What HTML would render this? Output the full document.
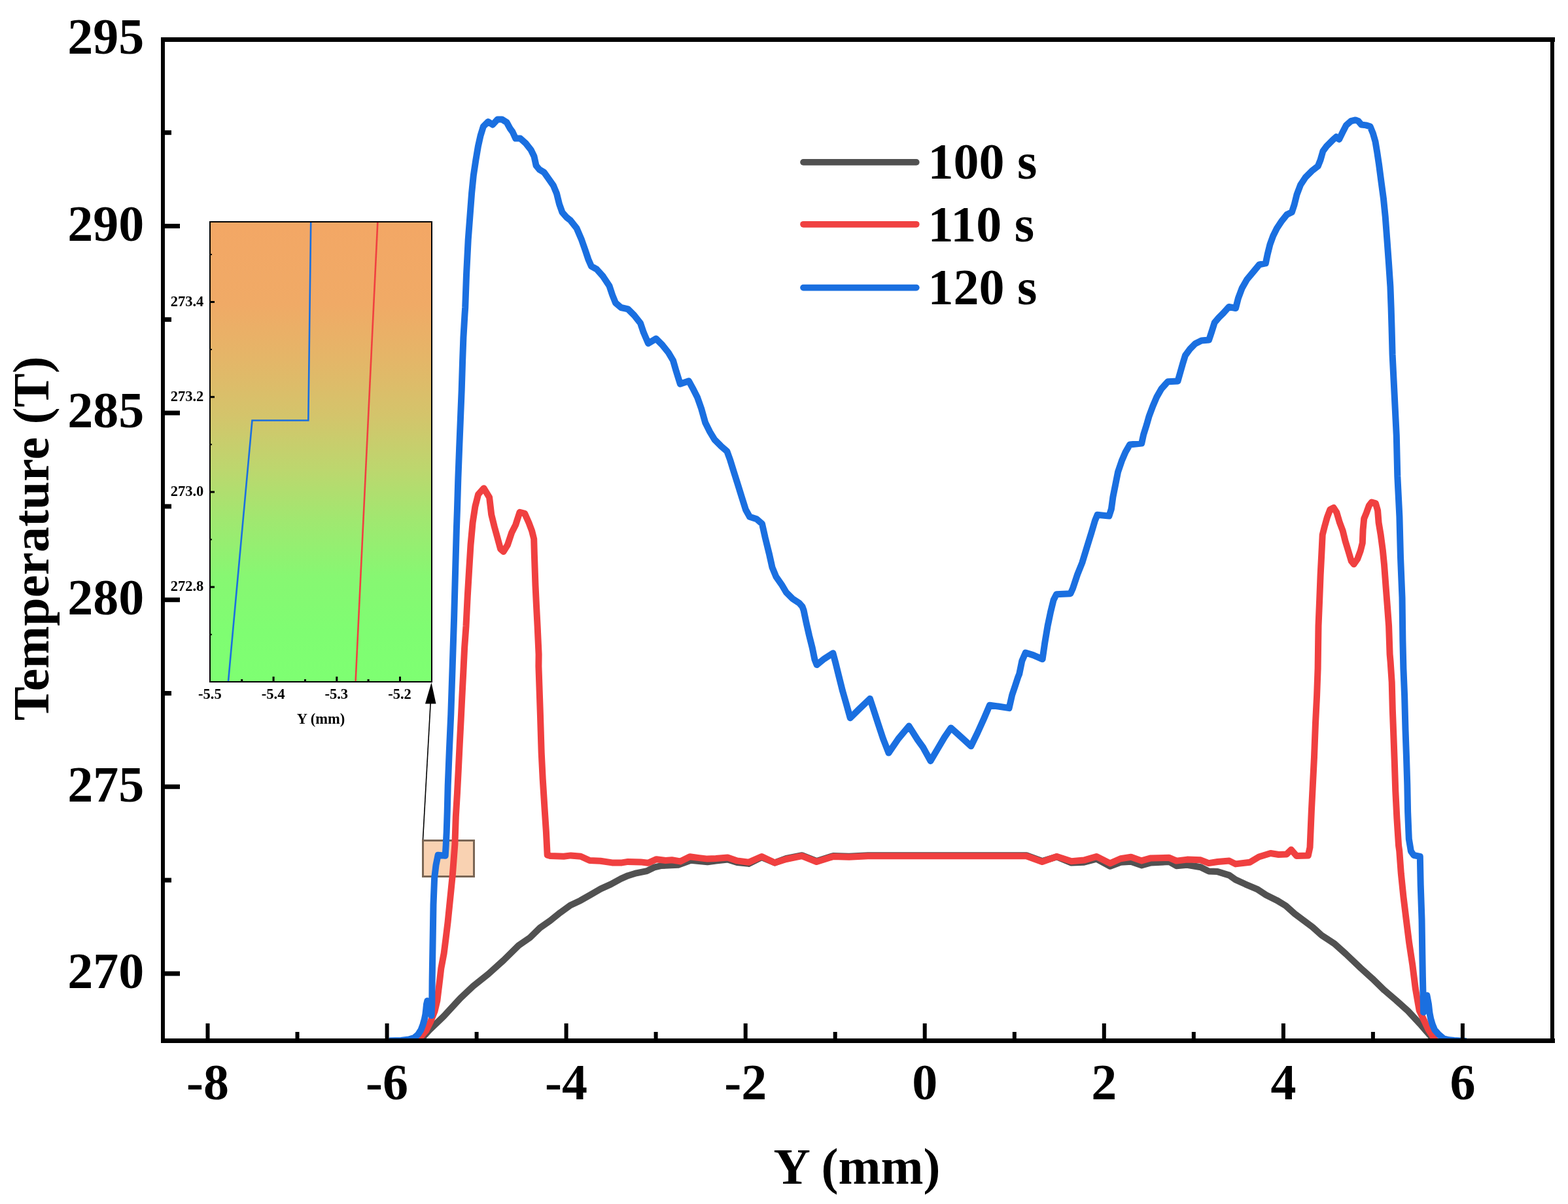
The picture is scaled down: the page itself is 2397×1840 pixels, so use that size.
<!DOCTYPE html>
<html><head><meta charset="utf-8"><title>Temperature profile</title>
<style>html,body{margin:0;padding:0;background:#fff;}svg{display:block;}</style></head>
<body><svg width="2397" height="1840" viewBox="0 0 2397 1840">
<rect x="0" y="0" width="2397" height="1840" fill="#fff"/>
<defs><linearGradient id="g" x1="0" y1="0" x2="0" y2="1"><stop offset="0" stop-color="#F3A765"/><stop offset="0.18" stop-color="#F0AA66"/><stop offset="0.3" stop-color="#E4B668"/><stop offset="0.42" stop-color="#D4C46B"/><stop offset="0.54" stop-color="#BCD76E"/><stop offset="0.65" stop-color="#A0E870"/><stop offset="0.77" stop-color="#87F772"/><stop offset="0.89" stop-color="#7FFD72"/><stop offset="1" stop-color="#7EFF72"/></linearGradient></defs>
<rect x="321" y="339" width="339" height="703" fill="url(#g)" stroke="#000" stroke-width="2"/>
<rect x="322" y="968.7" width="2" height="2" fill="#000"/>
<rect x="322" y="895.6" width="6" height="3" fill="#000"/>
<rect x="322" y="823.5" width="2" height="2" fill="#000"/>
<rect x="322" y="750.4" width="6" height="3" fill="#000"/>
<rect x="322" y="678.3" width="2" height="2" fill="#000"/>
<rect x="322" y="605.2" width="6" height="3" fill="#000"/>
<rect x="322" y="533.1" width="2" height="2" fill="#000"/>
<rect x="322" y="460.0" width="6" height="3" fill="#000"/>
<rect x="322" y="387.9" width="2" height="2" fill="#000"/>
<rect x="368.2" y="1038" width="3" height="3" fill="#000"/>
<rect x="416.6" y="1034" width="3" height="7" fill="#000"/>
<rect x="465.0" y="1038" width="3" height="3" fill="#000"/>
<rect x="513.3" y="1034" width="3" height="7" fill="#000"/>
<rect x="561.6" y="1038" width="3" height="3" fill="#000"/>
<rect x="610.0" y="1034" width="3" height="7" fill="#000"/>
<text x="311.3" y="467.5" text-anchor="end" style='font-family:"Liberation Serif","Times New Roman",serif;font-weight:bold;font-size:22.5px'>273.4</text>
<text x="311.3" y="612.7" text-anchor="end" style='font-family:"Liberation Serif","Times New Roman",serif;font-weight:bold;font-size:22.5px'>273.2</text>
<text x="311.3" y="757.9" text-anchor="end" style='font-family:"Liberation Serif","Times New Roman",serif;font-weight:bold;font-size:22.5px'>273.0</text>
<text x="311.3" y="903.1" text-anchor="end" style='font-family:"Liberation Serif","Times New Roman",serif;font-weight:bold;font-size:22.5px'>272.8</text>
<text x="320.9" y="1067.5" text-anchor="middle" style='font-family:"Liberation Serif","Times New Roman",serif;font-weight:bold;font-size:22.5px'>-5.5</text>
<text x="417.6" y="1067.5" text-anchor="middle" style='font-family:"Liberation Serif","Times New Roman",serif;font-weight:bold;font-size:22.5px'>-5.4</text>
<text x="514.3" y="1067.5" text-anchor="middle" style='font-family:"Liberation Serif","Times New Roman",serif;font-weight:bold;font-size:22.5px'>-5.3</text>
<text x="611.0" y="1067.5" text-anchor="middle" style='font-family:"Liberation Serif","Times New Roman",serif;font-weight:bold;font-size:22.5px'>-5.2</text>
<text x="490.5" y="1106.4" text-anchor="middle" style='font-family:"Liberation Serif","Times New Roman",serif;font-weight:bold;font-size:22.5px'>Y (mm)</text>
<polyline points="475.2,340 471.3,642.5 385.5,642.5 349,1041" fill="none" stroke="#1A6FE0" stroke-width="2.6"/>
<polyline points="577.3,340 543.6,1041" fill="none" stroke="#F04040" stroke-width="2.6"/>
<rect x="646.5" y="1284.5" width="78" height="55" fill="#F9D2B2" stroke="#7A6655" stroke-width="3"/>
<line x1="646.5" y1="1283" x2="658.4" y2="1070" stroke="#000" stroke-width="1.6"/>
<polygon points="659.5,1043 650,1075.5 666.5,1075.5" fill="#000"/>
<clipPath id="pc"><rect x="252" y="64" width="2118" height="1523"/></clipPath><g clip-path="url(#pc)">
<polyline points="642,1590 656.4,1574.1 678.3,1553.1 703.9,1525.3 723.2,1507.2 746.4,1488.6 769.6,1467.7 792.8,1444.9 810,1433 825.5,1417.9 840.9,1407.1 856.4,1394.7 871.9,1383.5 887.4,1376.2 902.8,1367.3 918.3,1358.4 933.8,1351.4 949.3,1342.9 960,1338.2 972.8,1334.3 988.8,1331.1 999.6,1325.7 1011.2,1323 1036.7,1321.7 1055.9,1314.7 1081.5,1317.3 1094.3,1315.5 1112.4,1313.5 1126.8,1318 1144.4,1319.9 1164.4,1310.1 1184.3,1318.5 1201.9,1312 1225.9,1307.2 1248.3,1316 1273.9,1308 1297.9,1308.8 1326.7,1307.2 1569.1,1307.2 1593.1,1316 1615.5,1309.4 1637.9,1318.5 1657.1,1317.7 1676.2,1312.7 1697,1323.8 1713,1317.8 1729,1316.7 1745,1322.4 1759.4,1318.4 1787.4,1317 1798.4,1323.2 1814.8,1321.8 1835.4,1325.2 1847.7,1331.4 1861.4,1332.1 1879.2,1337.6 1888.8,1344.4 1903.9,1351.3 1921.7,1358.8 1935.4,1367.7 1951.9,1375.9 1965.6,1384.2 1979.3,1396.5 1993,1406.8 2006.7,1417 2020.4,1429.4 2040,1442.2 2057.6,1458 2080,1479.4 2098.1,1495.7 2116.2,1513.3 2134.3,1528.7 2152.4,1545 2170.5,1564.5 2180,1575.5 2188,1584.5 2190,1590" fill="none" stroke="#515151" stroke-width="10" stroke-linejoin="round"/>
<polyline points="638,1592 641,1587 651.4,1574.9 658,1561.8 664.5,1545.5 668.4,1529.1 670.4,1512.7 672.4,1496.4 674.3,1480 678.7,1456.7 681.7,1432.9 684.6,1409 687,1385.2 689.4,1361.4 691.8,1337.6 693.6,1313.8 695.4,1290 696.8,1248.3 699,1211.4 700.9,1174.5 702.7,1137.6 704.6,1100.7 706.4,1063.8 708.3,1026.9 710.1,990 712.5,956.6 714.8,910.2 717.1,871.5 719.5,832.8 722.6,798.8 726.4,774 731.1,755.5 739.6,746.2 748.1,760.1 751.2,786.4 755.8,805 760.5,822 765.1,839 769.7,843 775.9,832.8 782.1,814.3 788.3,801.9 794.5,782.8 802.2,784.9 808.4,798.8 813.1,811.2 816.2,823.6 816.9,848.3 818.5,894.7 820,925.7 821.6,956.6 823.6,1000 823.4,1018.3 825.9,1091.5 827.7,1150.3 829.7,1190.5 832.8,1239.7 834.9,1271.1 836.7,1306.7 841.1,1308.1 861.7,1308.8 872.6,1307.4 887.7,1308.8 901.4,1315 917.9,1315.7 935.7,1318.4 950.7,1318.4 960,1316.9 979.2,1317.4 990.7,1318.8 1003.5,1313.2 1017.5,1315.1 1027.1,1314.3 1039.9,1316.4 1054.6,1309.2 1068.7,1311.1 1081.5,1312.6 1094.3,1312.1 1112.4,1310.6 1126.8,1315.4 1144.4,1317.8 1164.4,1309 1184.3,1318.6 1201.9,1313 1225.9,1308.2 1248.3,1317 1273.9,1309 1297.9,1309.8 1326.7,1308.2 1569.1,1308.2 1593.1,1317 1615.5,1309 1637.9,1316.2 1657.1,1314.6 1676.2,1309 1697,1319.4 1713,1312.2 1729,1309.8 1745,1315.4 1759.4,1311.4 1787.4,1310.8 1798.4,1315.6 1814.8,1313.6 1835.4,1314.3 1847.7,1319.1 1861.4,1317 1879.2,1315.6 1888.8,1320.4 1910.7,1317.7 1924.5,1309.5 1942.3,1304 1954.6,1306 1966.9,1305.4 1973.8,1298.5 1982,1308.1 1999.8,1307.4 2002.5,1295 2004.8,1240.4 2006.9,1198.8 2009,1157.1 2011,1105 2013.1,1063.3 2014.6,1021.7 2015.5,956.6 2017.1,918 2018.6,879.3 2020.2,848.3 2021.7,817.4 2024.8,805 2028.7,791.1 2033.3,778.7 2038.7,776 2043.4,783.3 2048,798.8 2052.7,811.2 2056.5,826.7 2061.2,842.1 2065.8,857.6 2069.7,862.2 2075.1,854.5 2079.7,842.1 2082.8,829.7 2083.6,809.6 2085.2,792.6 2089,783.3 2092.9,772.5 2096.8,767.5 2103,769.4 2106.1,780.2 2107.6,798.8 2110.7,817.4 2113.8,840.6 2116.1,863.8 2118.4,894.7 2120.8,925.7 2123.1,956.6 2124.6,1000 2125.6,1011.3 2127.7,1042.5 2128.8,1084.2 2130.4,1125.8 2131.9,1167.5 2133.3,1209.2 2135.4,1250.8 2138.1,1292.5 2139.2,1300 2141.8,1335.1 2145.4,1370.2 2149.7,1405.4 2154.1,1440.5 2159.4,1475.6 2163.8,1510.7 2169.6,1544 2177.7,1561 2183.5,1573.5 2191,1585 2196,1592" fill="none" stroke="#F04040" stroke-width="10" stroke-linejoin="round"/>
<polyline points="595,1590.5 613,1590 625,1588.5 633,1586 639,1581 643.5,1574 646.5,1566 648.8,1558 650.4,1550 651.3,1542 652,1535 653.3,1529.5 659.5,1552 660.3,1535 660.6,1500 660.9,1480 661.5,1443.3 662.5,1382.6 664.1,1342.2 666.5,1321.9 669.6,1306.8 680.7,1307.8 681.7,1291.6 682.7,1271.4 683.7,1241 684.7,1200.6 686.7,1150 689.3,1091.5 691.7,1018.3 694.1,945.1 696.1,872 697.8,811 698.9,780 700.4,730 702.1,685.4 703.9,640.7 705.7,596.1 707.1,551.4 708.4,515.7 710.5,480 711.2,470 713,420 715.7,366.4 718.4,330.7 721.1,295 723.8,268.2 727.3,245 730.9,223.6 734.5,207.5 738.9,193.2 746.1,186.1 753.2,190.5 760.4,182.5 767.5,182.5 774.6,187 780,196.8 783.5,201.5 788.2,211.6 795.3,211.6 803.4,218.7 811.5,228.8 816.5,239 819.6,253.1 824.6,259.2 831.7,263.3 838.8,273.4 845.9,283.5 851,295.7 855,311.9 859.5,324.5 866,332 871.9,336.7 881.4,348.6 888.6,365.2 894.5,381.9 899.3,396.2 904,406.9 912.4,411.7 921.9,422.4 931.4,436.7 936.2,451 941,462.9 949.3,470 960,472.4 969.5,481.9 979,493.8 983.8,508.1 991,524.8 1002.9,517.6 1012.4,527.1 1021.9,539 1029,551 1033.8,567.6 1039.8,586.7 1053,582.3 1059,593.3 1066.2,607.6 1072.1,624.3 1078.1,645.7 1085.2,660 1092.4,671.9 1101.9,681.4 1111.4,689.8 1116.2,702.9 1122.1,721.9 1128.1,741 1134,760 1140,779 1146,789.8 1156.7,793.3 1165,800.5 1169.8,821.9 1175.7,845.7 1180.5,867.1 1186.4,881.4 1194.8,893.3 1201.9,905.2 1211.4,914.8 1222.1,921.9 1226.5,927 1228.5,932.4 1232.4,951 1237,971.1 1241.7,989.7 1245.5,1008.2 1248.6,1016 1260.2,1006.7 1273.4,998.2 1277.3,1012.9 1281.9,1031.5 1288.1,1056.2 1293.5,1074.8 1299.7,1097.2 1312.9,1084.1 1329.9,1067.8 1335.3,1084.1 1342.3,1105.8 1350,1129 1358.5,1150.6 1373.3,1129 1389.5,1109.6 1402.7,1130.5 1411,1142 1422.5,1162.9 1432.9,1145.3 1443.9,1126.6 1453.7,1112.4 1465.8,1123.3 1484.4,1140.3 1494.3,1120 1504.2,1098.1 1512.9,1077.8 1526.1,1079.5 1542.6,1082.1 1547.2,1062 1551.8,1048.3 1556.3,1034.6 1558.2,1030 1562.3,1010 1567.7,997.5 1579.3,1001.1 1593.6,1007.3 1597.1,983.2 1601.6,956.4 1606.1,935 1610.5,917.1 1615,908.2 1636.4,907.3 1640,899.3 1647.1,877.9 1654.3,860 1661.4,836.8 1668.6,813.6 1673.9,795.7 1677.5,786.8 1695.4,788.6 1698.9,777.9 1701.4,759.5 1705.2,740.5 1709,721.4 1714.8,704.3 1720.5,691 1727.1,679.5 1745.2,677.6 1748.1,664.3 1752.9,649 1756.7,635.7 1762.4,620.5 1768.1,607.1 1775.7,593.8 1785.2,583.3 1800.5,582.4 1804.3,569 1808.1,555.7 1811.9,543.3 1819.5,532.9 1827.1,525.2 1836.7,520.5 1848.1,519.5 1851.9,508.1 1856.7,492.9 1863.3,485.2 1870,478.6 1878.6,469 1889,471 1892.9,455.7 1898.6,440.5 1906.2,427.1 1915.7,415.7 1925.2,404.3 1934.8,402.4 1937.6,389 1941.4,373.8 1946.2,360.5 1951.9,349 1959.5,337.6 1967.1,328.1 1974.8,324.3 1978.6,312.9 1982.4,297.6 1988.1,282.4 1995.7,271 2005.2,261.4 2014.8,253.8 2018.6,244.3 2022.4,231 2028.1,223.3 2037.6,213.8 2042.7,209.3 2047.1,212.9 2052.5,202.1 2057.9,191.4 2065,185.2 2072.1,183.4 2076.6,185.2 2081.1,190.5 2088.2,191.4 2094.5,193.2 2098.9,203.9 2102.5,216.4 2105.2,232.5 2107.9,250.4 2111.4,277.1 2115,303.9 2117.7,330.7 2120.4,366.4 2123,402.1 2125.4,437.9 2126.6,470 2127.5,500 2128.6,541.9 2131.7,603.8 2134.8,665.8 2136.3,727.7 2139.4,789.6 2141,851.5 2143.5,913.4 2144.4,980 2145.4,1021.7 2147.1,1063.3 2148.5,1115.4 2150,1157.1 2151.3,1198.8 2152.1,1240.4 2153.8,1282.1 2156.9,1300.8 2161.2,1307 2170.8,1308.8 2171.7,1352.7 2173.5,1405.4 2174.3,1458 2174.9,1493.2 2176.1,1547 2181.4,1521.2 2184,1535 2185.4,1547.7 2187.2,1557 2189.7,1565.5 2193.2,1573.9 2199,1580.5 2206.9,1587.3 2215,1589.3 2223,1590 2241.9,1591.2" fill="none" stroke="#1A6FE0" stroke-width="10" stroke-linejoin="round"/>
</g>
<rect x="246" y="57" width="2131" height="7" fill="#000"/>
<rect x="246" y="1587" width="2131" height="7" fill="#000"/>
<rect x="246" y="57" width="6" height="1537" fill="#000"/>
<rect x="2370" y="57" width="6" height="1537" fill="#000"/>
<rect x="252" y="1484.4" width="23" height="7" fill="#000"/>
<rect x="252" y="1341.6" width="10" height="7" fill="#000"/>
<rect x="252" y="1198.8" width="23" height="7" fill="#000"/>
<rect x="252" y="1056.0" width="10" height="7" fill="#000"/>
<rect x="252" y="913.2" width="23" height="7" fill="#000"/>
<rect x="252" y="770.4" width="10" height="7" fill="#000"/>
<rect x="252" y="627.6" width="23" height="7" fill="#000"/>
<rect x="252" y="484.8" width="10" height="7" fill="#000"/>
<rect x="252" y="342.0" width="23" height="7" fill="#000"/>
<rect x="252" y="199.2" width="10" height="7" fill="#000"/>
<rect x="314.5" y="1564" width="6" height="23" fill="#000"/>
<rect x="451.5" y="1577" width="6" height="10" fill="#000"/>
<rect x="588.6" y="1564" width="6" height="23" fill="#000"/>
<rect x="725.6" y="1577" width="6" height="10" fill="#000"/>
<rect x="862.6" y="1564" width="6" height="23" fill="#000"/>
<rect x="999.6" y="1577" width="6" height="10" fill="#000"/>
<rect x="1136.7" y="1564" width="6" height="23" fill="#000"/>
<rect x="1273.7" y="1577" width="6" height="10" fill="#000"/>
<rect x="1410.7" y="1564" width="6" height="23" fill="#000"/>
<rect x="1547.8" y="1577" width="6" height="10" fill="#000"/>
<rect x="1684.8" y="1564" width="6" height="23" fill="#000"/>
<rect x="1821.8" y="1577" width="6" height="10" fill="#000"/>
<rect x="1958.9" y="1564" width="6" height="23" fill="#000"/>
<rect x="2095.9" y="1577" width="6" height="10" fill="#000"/>
<rect x="2232.9" y="1564" width="6" height="23" fill="#000"/>
<text x="220.3" y="1510.1" text-anchor="end" style='font-family:"Liberation Serif","Times New Roman",serif;font-weight:bold;font-size:78px'>270</text>
<text x="220.3" y="1224.5" text-anchor="end" style='font-family:"Liberation Serif","Times New Roman",serif;font-weight:bold;font-size:78px'>275</text>
<text x="220.3" y="938.9" text-anchor="end" style='font-family:"Liberation Serif","Times New Roman",serif;font-weight:bold;font-size:78px'>280</text>
<text x="220.3" y="653.3" text-anchor="end" style='font-family:"Liberation Serif","Times New Roman",serif;font-weight:bold;font-size:78px'>285</text>
<text x="220.3" y="367.7" text-anchor="end" style='font-family:"Liberation Serif","Times New Roman",serif;font-weight:bold;font-size:78px'>290</text>
<text x="220.3" y="82.1" text-anchor="end" style='font-family:"Liberation Serif","Times New Roman",serif;font-weight:bold;font-size:78px'>295</text>
<text x="317.5" y="1679.8" text-anchor="middle" style='font-family:"Liberation Serif","Times New Roman",serif;font-weight:bold;font-size:78px'>-8</text>
<text x="591.6" y="1679.8" text-anchor="middle" style='font-family:"Liberation Serif","Times New Roman",serif;font-weight:bold;font-size:78px'>-6</text>
<text x="865.6" y="1679.8" text-anchor="middle" style='font-family:"Liberation Serif","Times New Roman",serif;font-weight:bold;font-size:78px'>-4</text>
<text x="1139.7" y="1679.8" text-anchor="middle" style='font-family:"Liberation Serif","Times New Roman",serif;font-weight:bold;font-size:78px'>-2</text>
<text x="1413.7" y="1679.8" text-anchor="middle" style='font-family:"Liberation Serif","Times New Roman",serif;font-weight:bold;font-size:78px'>0</text>
<text x="1687.8" y="1679.8" text-anchor="middle" style='font-family:"Liberation Serif","Times New Roman",serif;font-weight:bold;font-size:78px'>2</text>
<text x="1961.9" y="1679.8" text-anchor="middle" style='font-family:"Liberation Serif","Times New Roman",serif;font-weight:bold;font-size:78px'>4</text>
<text x="2235.9" y="1679.8" text-anchor="middle" style='font-family:"Liberation Serif","Times New Roman",serif;font-weight:bold;font-size:78px'>6</text>
<text x="1310" y="1809" text-anchor="middle" style='font-family:"Liberation Serif","Times New Roman",serif;font-weight:bold;font-size:78px'>Y (mm)</text>
<text transform="translate(74,822.8) rotate(-90)" x="0" y="0" text-anchor="middle" style='font-family:"Liberation Serif","Times New Roman",serif;font-weight:bold;font-size:78px'>Temperature (T)</text>
<line x1="1228" y1="247.9" x2="1400.8" y2="247.9" stroke="#515151" stroke-width="9.7" stroke-linecap="round"/>
<text x="1418.6" y="272.9" style='font-family:"Liberation Serif","Times New Roman",serif;font-weight:bold;font-size:78px'>100 s</text>
<line x1="1228" y1="342.8" x2="1400.8" y2="342.8" stroke="#F04040" stroke-width="9.7" stroke-linecap="round"/>
<text x="1418.6" y="368.6" style='font-family:"Liberation Serif","Times New Roman",serif;font-weight:bold;font-size:78px'>110 s</text>
<line x1="1228" y1="439.6" x2="1400.8" y2="439.6" stroke="#1A6FE0" stroke-width="9.7" stroke-linecap="round"/>
<text x="1418.6" y="465.1" style='font-family:"Liberation Serif","Times New Roman",serif;font-weight:bold;font-size:78px'>120 s</text>
</svg></body></html>
